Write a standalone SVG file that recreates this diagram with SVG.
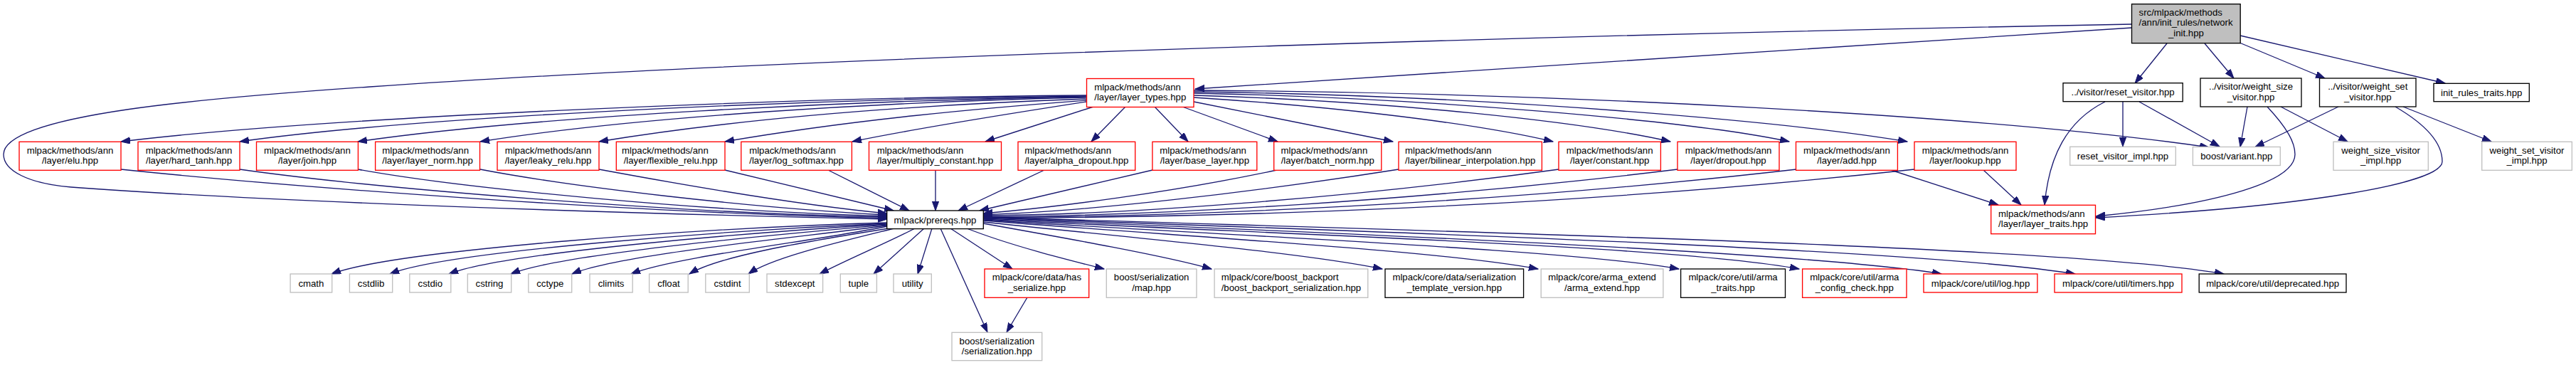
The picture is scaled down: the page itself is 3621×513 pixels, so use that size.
<svg xmlns="http://www.w3.org/2000/svg" width="3621" height="513" viewBox="0 0 3621 513">
<style>
rect{fill:#fff;stroke-width:1.33}
.red{stroke:#ff0000}
.gry{stroke:#bfbfbf}
.blk{stroke:#000}
.top{fill:#bfbfbf;stroke:#000}
text{font-family:"Liberation Sans",Arial,Helvetica,sans-serif;font-size:13.2px;fill:#000;text-anchor:middle}
text.l{text-anchor:start}
#edges path{fill:none;stroke:#191970;stroke-width:1.33;marker-end:url(#a)}
</style>
<defs>
<marker id="a" markerUnits="userSpaceOnUse" markerWidth="14" markerHeight="10" refX="13" refY="4.65" orient="auto">
<path d="M0,0 L13,4.65 L0,9.3 z" fill="#191970" stroke="#191970" stroke-width="1"/>
</marker>
</defs>
<rect x="0" y="0" width="3621" height="513" style="fill:#fff;stroke:none"/>
<g id="edges">
<path d="M2997,39 C2600,65 2100,97 1680,125"/>
<path d="M2997,34 C2400,45 1200,75 520,122 C300,137 5,160 5,217 C5,240 40,258 100,263 C300,278 700,296 1247,308"/>
<path d="M3046,61 L3001,117"/>
<path d="M3099,61 L3140,110"/>
<path d="M3148,60 L3268,110"/>
<path d="M3149,50 L3437,117"/>
<path d="M1527,134 C1100,137 450,165 170,199"/>
<path d="M1527,135 C1150,139 600,162 337,199"/>
<path d="M1527,136 C1200,141 750,163 503,199"/>
<path d="M1527,137 C1250,143 900,163 675,199"/>
<path d="M1527,139 C1300,147 1050,165 842,199"/>
<path d="M1527,141 C1380,152 1200,168 1019,199"/>
<path d="M1527,143 C1430,158 1290,180 1198,199"/>
<path d="M1537,150 L1385,199"/>
<path d="M1582,150 L1534,199"/>
<path d="M1623,150 L1670,199"/>
<path d="M1662,150 L1796,199"/>
<path d="M1678,143 L1958,199"/>
<path d="M1678,137 C1850,148 2060,170 2183,199"/>
<path d="M1678,134 C1950,142 2220,170 2348,199"/>
<path d="M1678,131 C2000,137 2380,170 2515,199"/>
<path d="M1678,129 C2100,134 2520,172 2681,199"/>
<path d="M1678,127 C2200,130 2800,163 3105,207"/>
<path d="M170,238 C400,262 900,300 1247,306.5"/>
<path d="M337,238 C520,264 950,300 1247,305"/>
<path d="M503,238 C650,265 1000,298 1247,303.5"/>
<path d="M675,238 C800,262 1050,292 1247,302"/>
<path d="M842,238 C950,258 1120,288 1247,300"/>
<path d="M1019,239 L1256,296"/>
<path d="M1164,239 L1278,296"/>
<path d="M1315,239 L1315,296"/>
<path d="M1468,239 L1347,296"/>
<path d="M1620,239 L1377,296"/>
<path d="M1795,239 C1650,270 1480,292 1382,300"/>
<path d="M1966,238 C1750,272 1520,298 1382,301.5"/>
<path d="M2191,238 C1900,278 1580,302 1382,303"/>
<path d="M2358,238 C2000,282 1620,304 1382,304.5"/>
<path d="M2525,238 C2100,287 1650,305 1382,305.5"/>
<path d="M2691,238 C2200,292 1700,306 1382,306.5"/>
<path d="M2658,239 L2809,288"/>
<path d="M2788,239 L2841,288"/>
<path d="M2959,143 C2905,170 2880,220 2874,288"/>
<path d="M2984,143 L2984,206"/>
<path d="M3007,143 L3120,206"/>
<path d="M3159,150 L3149,206.5"/>
<path d="M3187,150 C3215,180 3226,200 3226,217 C3226,255 3120,287 2946,304"/>
<path d="M3206,150 L3300,199"/>
<path d="M3287,150 L3170,206.5"/>
<path d="M3367,150 C3410,175 3433,200 3433,227 C3433,257 3250,290 2946,306"/>
<path d="M3378,150 L3502,199"/>
<path d="M1247,313 C1000,320 560,350 466,385"/>
<path d="M1247,314 C1040,323 630,352 548,385"/>
<path d="M1247,315 C1070,326 710,354 631,385"/>
<path d="M1247,316 C1100,329 790,356 718,385"/>
<path d="M1247,317 C1130,333 870,357 804,385"/>
<path d="M1247,318 C1160,337 950,360 887,385"/>
<path d="M1249,321 C1130,340 1010,360 969,385"/>
<path d="M1257,321 C1180,340 1085,362 1052,385"/>
<path d="M1286,321 C1250,340 1190,365 1152,385"/>
<path d="M1299,321 L1228,385"/>
<path d="M1310,321 L1290,385"/>
<path d="M1322,321 L1388,467"/>
<path d="M1336,321 L1423,378"/>
<path d="M1444,418 L1415,467"/>
<path d="M1359,321 C1420,345 1500,365 1552,378"/>
<path d="M1382,314 C1500,335 1640,360 1703,378"/>
<path d="M1382,312 C1600,335 1830,355 1943,378"/>
<path d="M1382,310 C1700,335 2020,352 2162,378"/>
<path d="M1382,309 C1750,333 2200,350 2360,378"/>
<path d="M1382,308 C1800,330 2350,345 2529,378"/>
<path d="M1382,307 C1900,328 2550,355 2729,385"/>
<path d="M1382,306 C1950,326 2700,350 2917,385"/>
<path d="M1382,305 C2000,325 2900,345 3126,385"/>
</g>
<g id="network_init"><rect class="top" x="2996.5" y="5.7" width="152.7" height="55"/><text class="l" x="3006.6" y="21.7">src/mlpack/methods</text><text class="l" x="3006.6" y="36.4">/ann/init_rules/network</text><text x="3072.9" y="51">_init.hpp</text></g>
<g id="layer_types"><rect class="red" x="1527.5" y="110.5" width="150.5" height="40"/><text class="l" x="1538.2" y="126.7">mlpack/methods/ann</text><text x="1602.75" y="141.3">/layer/layer_types.hpp</text></g>
<g id="reset_visitor"><rect class="blk" x="2900" y="116.7" width="168.2" height="26"/><text x="2984.1" y="134.3">../visitor/reset_visitor.hpp</text></g>
<g id="weight_size_visitor"><rect class="blk" x="3093" y="110" width="142" height="40"/><text x="3164" y="126.2">../visitor/weight_size</text><text x="3164" y="140.8">_visitor.hpp</text></g>
<g id="weight_set_visitor"><rect class="blk" x="3260.5" y="110" width="135.5" height="40"/><text x="3328.25" y="126.2">../visitor/weight_set</text><text x="3328.25" y="140.8">_visitor.hpp</text></g>
<g id="init_rules_traits"><rect class="blk" x="3421" y="117.3" width="134.3" height="25.4"/><text x="3488.15" y="134.9">init_rules_traits.hpp</text></g>
<g id="elu"><rect class="red" x="27" y="199.3" width="143" height="40"/><text x="98.5" y="215.5">mlpack/methods/ann</text><text x="98.5" y="230.1">/layer/elu.hpp</text></g>
<g id="hard_tanh"><rect class="red" x="194" y="199.3" width="143" height="40"/><text x="265.5" y="215.5">mlpack/methods/ann</text><text x="265.5" y="230.1">/layer/hard_tanh.hpp</text></g>
<g id="join"><rect class="red" x="360.5" y="199.3" width="142.9" height="40"/><text x="431.95" y="215.5">mlpack/methods/ann</text><text x="431.95" y="230.1">/layer/join.hpp</text></g>
<g id="layer_norm"><rect class="red" x="527.6" y="199.3" width="146.9" height="40"/><text class="l" x="537.3" y="215.5">mlpack/methods/ann</text><text x="601.05" y="230.1">/layer/layer_norm.hpp</text></g>
<g id="leaky_relu"><rect class="red" x="699" y="199.3" width="143" height="40"/><text x="770.5" y="215.5">mlpack/methods/ann</text><text x="770.5" y="230.1">/layer/leaky_relu.hpp</text></g>
<g id="flexible_relu"><rect class="red" x="866.3" y="199.3" width="152.7" height="40"/><text class="l" x="874.1" y="215.5">mlpack/methods/ann</text><text x="942.65" y="230.1">/layer/flexible_relu.hpp</text></g>
<g id="log_softmax"><rect class="red" x="1041.8" y="199.3" width="155.6" height="40"/><text class="l" x="1053.2" y="215.5">mlpack/methods/ann</text><text x="1119.6" y="230.1">/layer/log_softmax.hpp</text></g>
<g id="multiply_constant"><rect class="red" x="1221.5" y="199.3" width="186" height="40"/><text class="l" x="1232.7" y="215.5">mlpack/methods/ann</text><text x="1314.5" y="230.1">/layer/multiply_constant.hpp</text></g>
<g id="alpha_dropout"><rect class="red" x="1431" y="199.3" width="164.7" height="40"/><text class="l" x="1440.35" y="215.5">mlpack/methods/ann</text><text x="1513.35" y="230.1">/layer/alpha_dropout.hpp</text></g>
<g id="base_layer"><rect class="red" x="1619.9" y="199.3" width="146.9" height="40"/><text class="l" x="1630.25" y="215.5">mlpack/methods/ann</text><text x="1693.35" y="230.1">/layer/base_layer.hpp</text></g>
<g id="batch_norm"><rect class="red" x="1790.7" y="199.3" width="151.1" height="40"/><text class="l" x="1800.6" y="215.5">mlpack/methods/ann</text><text x="1866.25" y="230.1">/layer/batch_norm.hpp</text></g>
<g id="bilinear_interpolation"><rect class="red" x="1966" y="199.3" width="201.4" height="40"/><text class="l" x="1975" y="215.5">mlpack/methods/ann</text><text x="2066.7" y="230.1">/layer/bilinear_interpolation.hpp</text></g>
<g id="constant"><rect class="red" x="2191" y="199.3" width="143.4" height="40"/><text x="2262.7" y="215.5">mlpack/methods/ann</text><text x="2262.7" y="230.1">/layer/constant.hpp</text></g>
<g id="dropout"><rect class="red" x="2358" y="199.3" width="143" height="40"/><text x="2429.5" y="215.5">mlpack/methods/ann</text><text x="2429.5" y="230.1">/layer/dropout.hpp</text></g>
<g id="add"><rect class="red" x="2524.5" y="199.3" width="142.9" height="40"/><text x="2595.95" y="215.5">mlpack/methods/ann</text><text x="2595.95" y="230.1">/layer/add.hpp</text></g>
<g id="lookup"><rect class="red" x="2691" y="199.3" width="143" height="40"/><text x="2762.5" y="215.5">mlpack/methods/ann</text><text x="2762.5" y="230.1">/layer/lookup.hpp</text></g>
<g id="reset_visitor_impl"><rect class="gry" x="2909.7" y="206.3" width="148.6" height="26"/><text x="2984" y="223.9">reset_visitor_impl.hpp</text></g>
<g id="boost_variant"><rect class="gry" x="3082.4" y="206.5" width="122.9" height="26"/><text x="3143.85" y="224.1">boost/variant.hpp</text></g>
<g id="weight_size_visitor_impl"><rect class="gry" x="3280" y="199.3" width="133.3" height="40"/><text x="3346.65" y="215.5">weight_size_visitor</text><text x="3346.65" y="230.1">_impl.hpp</text></g>
<g id="weight_set_visitor_impl"><rect class="gry" x="3488.7" y="199.3" width="126.6" height="40"/><text x="3552" y="215.5">weight_set_visitor</text><text x="3552" y="230.1">_impl.hpp</text></g>
<g id="prereqs"><rect class="blk" x="1246.7" y="296" width="135.6" height="25.6"/><text x="1314.5" y="313.6">mlpack/prereqs.hpp</text></g>
<g id="layer_traits"><rect class="red" x="2798.7" y="288.3" width="146.8" height="40.4"/><text class="l" x="2809" y="304.5">mlpack/methods/ann</text><text x="2872.1" y="319.1">/layer/layer_traits.hpp</text></g>
<g id="cmath"><rect class="gry" x="408.1" y="385" width="58.6" height="26"/><text x="437.4" y="402.6">cmath</text></g>
<g id="cstdlib"><rect class="gry" x="491.4" y="385" width="60.3" height="26"/><text x="521.55" y="402.6">cstdlib</text></g>
<g id="cstdio"><rect class="gry" x="575.8" y="385" width="58" height="26"/><text x="604.8" y="402.6">cstdio</text></g>
<g id="cstring"><rect class="gry" x="657.3" y="385" width="61.4" height="26"/><text x="688" y="402.6">cstring</text></g>
<g id="cctype"><rect class="gry" x="742.8" y="385" width="60.9" height="26"/><text x="773.25" y="402.6">cctype</text></g>
<g id="climits"><rect class="gry" x="829" y="385" width="60.2" height="26"/><text x="859.1" y="402.6">climits</text></g>
<g id="cfloat"><rect class="gry" x="912.6" y="385" width="54.6" height="26"/><text x="939.9" y="402.6">cfloat</text></g>
<g id="cstdint"><rect class="gry" x="991.8" y="385" width="61.5" height="26"/><text x="1022.55" y="402.6">cstdint</text></g>
<g id="stdexcept"><rect class="gry" x="1078" y="385" width="78.6" height="26"/><text x="1117.3" y="402.6">stdexcept</text></g>
<g id="tuple"><rect class="gry" x="1181.3" y="385" width="51.1" height="26"/><text x="1206.85" y="402.6">tuple</text></g>
<g id="utility"><rect class="gry" x="1256" y="385" width="53.3" height="26"/><text x="1282.65" y="402.6">utility</text></g>
<g id="has_serialize"><rect class="red" x="1384" y="378" width="146.7" height="40.3"/><text x="1457.35" y="394.2">mlpack/core/data/has</text><text x="1457.35" y="408.8">_serialize.hpp</text></g>
<g id="serialization_map"><rect class="gry" x="1555.3" y="378" width="126.7" height="40.3"/><text x="1618.65" y="394.2">boost/serialization</text><text x="1618.65" y="408.8">/map.hpp</text></g>
<g id="boost_backport"><rect class="gry" x="1707.1" y="378" width="215.7" height="40.3"/><text class="l" x="1716.7" y="394.2">mlpack/core/boost_backport</text><text x="1814.95" y="408.8">/boost_backport_serialization.hpp</text></g>
<g id="serialization_template_version"><rect class="blk" x="1947" y="378" width="194.6" height="40.3"/><text x="2044.3" y="394.2">mlpack/core/data/serialization</text><text x="2044.3" y="408.8">_template_version.hpp</text></g>
<g id="arma_extend"><rect class="gry" x="2166.2" y="378" width="171.7" height="40.3"/><text x="2252.05" y="394.2">mlpack/core/arma_extend</text><text x="2252.05" y="408.8">/arma_extend.hpp</text></g>
<g id="arma_traits"><rect class="blk" x="2362.6" y="378" width="146.9" height="40.3"/><text x="2436.05" y="394.2">mlpack/core/util/arma</text><text x="2436.05" y="408.8">_traits.hpp</text></g>
<g id="arma_config_check"><rect class="red" x="2533.6" y="378" width="146.4" height="40.3"/><text x="2606.8" y="394.2">mlpack/core/util/arma</text><text x="2606.8" y="408.8">_config_check.hpp</text></g>
<g id="log"><rect class="red" x="2704" y="385" width="159.9" height="26"/><text x="2783.95" y="402.6">mlpack/core/util/log.hpp</text></g>
<g id="timers"><rect class="red" x="2888" y="385" width="179" height="26"/><text x="2977.5" y="402.6">mlpack/core/util/timers.hpp</text></g>
<g id="deprecated"><rect class="blk" x="3091.2" y="385" width="206.8" height="26"/><text x="3194.6" y="402.6">mlpack/core/util/deprecated.hpp</text></g>
<g id="serialization"><rect class="gry" x="1338" y="467.3" width="126.7" height="39.4"/><text x="1401.35" y="483.5">boost/serialization</text><text x="1401.35" y="498.1">/serialization.hpp</text></g>
</svg>
